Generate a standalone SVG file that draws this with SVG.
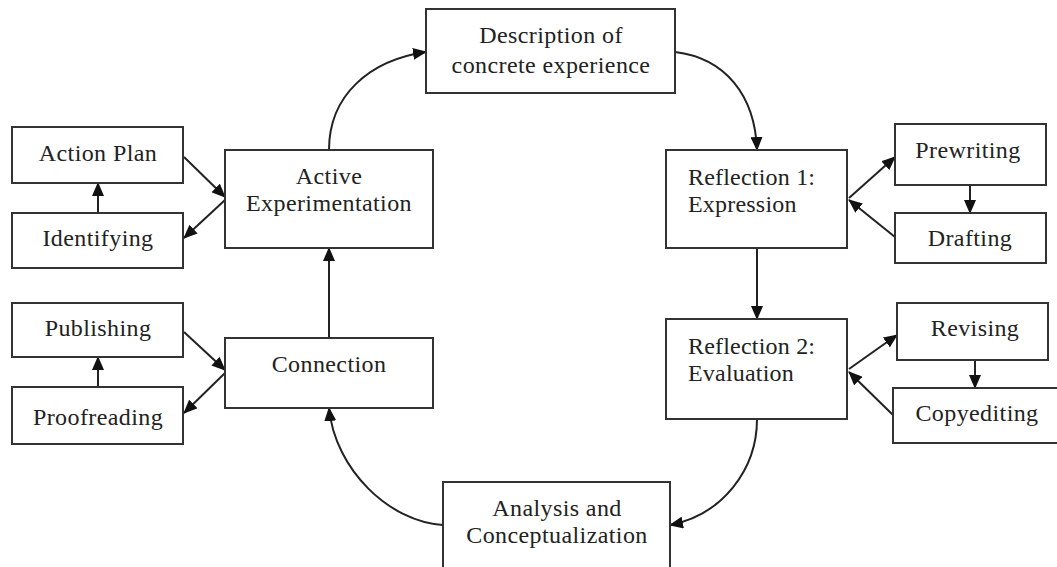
<svg xmlns="http://www.w3.org/2000/svg" width="1057" height="567" viewBox="0 0 1057 567">
<style>
.box{fill:#fff;stroke:#333;stroke-width:2}
.t{font-family:"Liberation Serif","Times New Roman",serif;font-size:24px;letter-spacing:0.4px;fill:#222;text-anchor:middle}
.tl{font-family:"Liberation Serif","Times New Roman",serif;font-size:24px;letter-spacing:0.2px;fill:#222;text-anchor:start}
.c{fill:none;stroke:#222;stroke-width:2}
</style>
<defs>
<marker id="ah" markerUnits="userSpaceOnUse" markerWidth="14" markerHeight="12" refX="13" refY="6" orient="auto">
<path d="M0,0 L14,6 L0,12 z" fill="#111"/>
</marker>
</defs>
<rect width="1057" height="567" fill="#fff"/>
<g id="connectors">
<path class="c" d="M329,150 C329,95 370,60 426,52" marker-end="url(#ah)"/>
<path class="c" d="M675,52 C725,58 755,95 757,150" marker-end="url(#ah)"/>
<path class="c" d="M757,248 L757,319" marker-end="url(#ah)"/>
<path class="c" d="M757,419 C757,470 722,515 670,525" marker-end="url(#ah)"/>
<path class="c" d="M443,525 C390,522 335,470 329,408" marker-end="url(#ah)"/>
<path class="c" d="M329,338 L329,248" marker-end="url(#ah)"/>
<path class="c" d="M184,157 L225,197" marker-end="url(#ah)"/>
<path class="c" d="M225,200 L184,238" marker-end="url(#ah)"/>
<path class="c" d="M98,213 L98,183" marker-end="url(#ah)"/>
<path class="c" d="M184,332 L225,370" marker-end="url(#ah)"/>
<path class="c" d="M225,373 L184,413" marker-end="url(#ah)"/>
<path class="c" d="M98,387 L98,357" marker-end="url(#ah)"/>
<path class="c" d="M849,198 L895,157" marker-end="url(#ah)"/>
<path class="c" d="M895,237 L849,200" marker-end="url(#ah)"/>
<path class="c" d="M970,185 L970,213" marker-end="url(#ah)"/>
<path class="c" d="M849,369 L897,335" marker-end="url(#ah)"/>
<path class="c" d="M893,415 L849,372" marker-end="url(#ah)"/>
<path class="c" d="M975,360 L975,388" marker-end="url(#ah)"/>
</g>
<g id="description"><rect class="box" x="426" y="9" width="249" height="84"/><text class="t" x="551" y="43">Description of</text><text class="t" x="551" y="73">concrete experience</text></g>
<g id="active"><rect class="box" x="225" y="150" width="208" height="98"/><text class="t" x="329" y="184">Active</text><text class="t" x="329" y="211">Experimentation</text></g>
<g id="actionplan"><rect class="box" x="12" y="127" width="171" height="56"/><text class="t" x="98" y="161">Action Plan</text></g>
<g id="identifying"><rect class="box" x="12" y="213" width="171" height="55"/><text class="t" x="98" y="246">Identifying</text></g>
<g id="reflection1"><rect class="box" x="666" y="150" width="181" height="98"/><text class="tl" x="688" y="185">Reflection 1:</text><text class="tl" x="688" y="212">Expression</text></g>
<g id="prewriting"><rect class="box" x="895" y="124" width="151" height="61"/><text class="t" x="968" y="158">Prewriting</text></g>
<g id="drafting"><rect class="box" x="895" y="213" width="151" height="50"/><text class="t" x="970" y="246">Drafting</text></g>
<g id="reflection2"><rect class="box" x="666" y="319" width="181" height="100"/><text class="tl" x="688" y="354">Reflection 2:</text><text class="tl" x="688" y="381">Evaluation</text></g>
<g id="revising"><rect class="box" x="897" y="303" width="151" height="57"/><text class="t" x="975" y="336">Revising</text></g>
<g id="copyediting"><rect class="box" x="893" y="388" width="170" height="55"/><text class="t" x="977" y="421">Copyediting</text></g>
<g id="analysis"><rect class="box" x="443" y="482" width="227" height="95"/><text class="t" x="557" y="516">Analysis and</text><text class="t" x="557" y="543">Conceptualization</text></g>
<g id="connection"><rect class="box" x="225" y="338" width="208" height="70"/><text class="t" x="329" y="372">Connection</text></g>
<g id="publishing"><rect class="box" x="12" y="303" width="171" height="54"/><text class="t" x="98" y="336">Publishing</text></g>
<g id="proofreading"><rect class="box" x="12" y="387" width="171" height="57"/><text class="t" x="98" y="425">Proofreading</text></g>
</svg>
